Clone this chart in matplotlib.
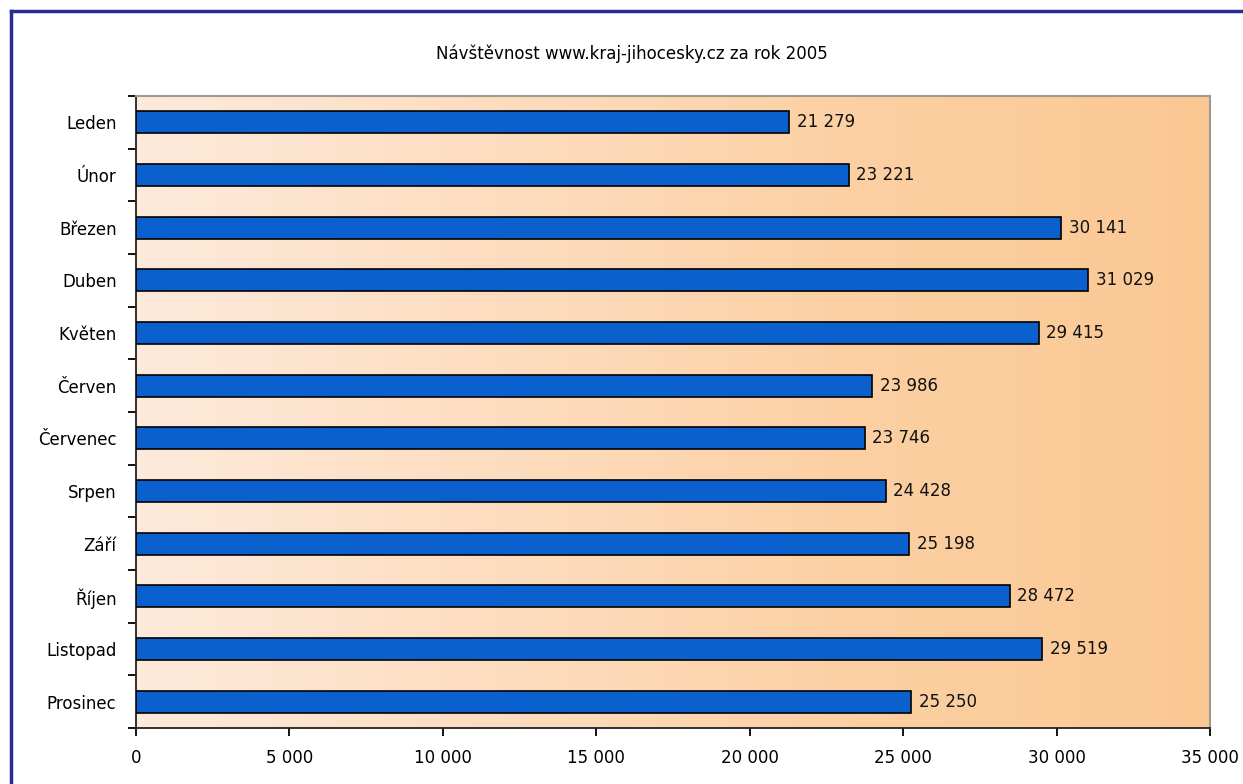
import matplotlib.pyplot as plt
import numpy as np
from matplotlib.colors import LinearSegmentedColormap

months = ['Leden', 'Únor', 'Březen', 'Duben', 'Květen', 'Červen',
          'Červenec', 'Srpen', 'Září', 'Říjen', 'Listopad', 'Prosinec']
visits = [21279, 23221, 30141, 31029, 29415, 23986,
          23746, 24428, 25198, 28472, 29519, 25250]
x_ticks = [0, 5000, 10000, 15000, 20000, 25000, 30000, 35000]


def fmt(v):
    return f'{v:,}'.replace(',', ' ')


fs = 12

fig = plt.figure(figsize=(12.43, 7.84), dpi=100)
fig.patch.set_facecolor('white')

# dark blue frame at top and left edge (image is cropped on right/bottom)
fig.add_artist(plt.Line2D([0.0085, 1.0], [0.986, 0.986], color='#2b2b96', lw=2.5,
                          transform=fig.transFigure))
fig.add_artist(plt.Line2D([0.0085, 0.0085], [0.0, 0.986], color='#2b2b96', lw=2.5,
                          transform=fig.transFigure))

ax = fig.add_axes([0.1094, 0.0714, 0.8641, 0.8062])

# horizontal peach -> orange gradient
cmap = LinearSegmentedColormap.from_list('peach', ['#feeadb', '#fdddc0', '#fcd0a3', '#fbc894'])
grad = np.linspace(0, 1, 256).reshape(1, -1)
ax.imshow(grad, aspect='auto', cmap=cmap, extent=[0, 35000, -0.5, 11.5],
          zorder=0, interpolation='bicubic')

y = np.arange(len(months))
ax.barh(y, visits, height=0.42, color='#0a60cc', edgecolor='black',
        linewidth=1.2, zorder=3)

for yi, v in zip(y, visits):
    ax.text(v + 250, yi, fmt(v), va='center', ha='left', fontsize=fs,
            color='#111111', zorder=4)

ax.set_xlim(0, 35000)
ax.set_ylim(11.5, -0.5)
ax.set_xticks(x_ticks)
ax.set_xticklabels([fmt(t) for t in x_ticks], fontsize=fs)
ax.set_yticks(y)
ax.set_yticklabels(months, fontsize=fs)
ax.set_yticks(np.arange(-0.5, 12, 1), minor=True)
ax.tick_params(axis='y', which='major', length=0, pad=14)
ax.tick_params(axis='y', which='minor', length=6, width=1.3, direction='out')
ax.tick_params(axis='x', length=6, width=1.3, direction='out', pad=9)

for s in ['left', 'bottom']:
    ax.spines[s].set_color('#222222')
    ax.spines[s].set_linewidth(1.3)
for s in ['top', 'right']:
    ax.spines[s].set_color('#a09a8e')
    ax.spines[s].set_linewidth(1.5)

fig.text(0.508, 0.932, 'Návštěvnost www.kraj-jihocesky.cz za rok 2005',
         ha='center', va='center', fontsize=fs)

fig.savefig('out.png', dpi=100)
